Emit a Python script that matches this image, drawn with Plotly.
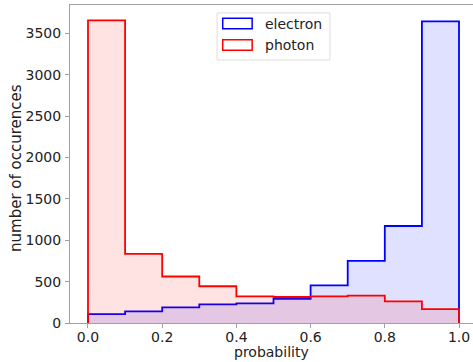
import plotly.graph_objects as go

bin_edges = [0.0, 0.1, 0.2, 0.3, 0.4, 0.5, 0.6, 0.7, 0.8, 0.9, 1.0]
electron_counts = [108, 140, 188, 225, 237, 291, 454, 750, 1172, 3645]
photon_counts = [3657, 836, 562, 444, 321, 314, 321, 330, 261, 168]
series_names = ["electron", "photon"]
x_ticks = [0.0, 0.2, 0.4, 0.6, 0.8, 1.0]
y_ticks = [0, 500, 1000, 1500, 2000, 2500, 3000, 3500]


def step_outline(edges, counts):
    xs = [edges[0]] + list(edges)
    ys = [0] + list(counts) + [0]
    return xs, ys


FONT = "DejaVu Sans"
fig = go.Figure()
styles = {
    "electron": dict(line="#0000ff", fill="rgba(0,0,255,0.12)"),
    "photon": dict(line="#ff0000", fill="rgba(255,0,0,0.11)"),
}
for name, counts in zip(series_names, [electron_counts, photon_counts]):
    xs, ys = step_outline(bin_edges, counts)
    fig.add_trace(go.Scatter(
        x=xs, y=ys, mode="lines", line=dict(color=styles[name]["line"], width=1.8, shape="hv"),
        fill="toself", fillcolor=styles[name]["fill"], name=name, showlegend=False,
        hoverinfo="skip",
    ))

# legend box (matplotlib-like), drawn first so the patches sit on top
fig.add_shape(type="rect", xref="paper", yref="paper", x0=0.365, x1=0.645, y0=0.827, y1=0.975,
              line=dict(color="#dddddd", width=1), fillcolor="rgba(255,255,255,0.85)")
legend_y = [0.9415, 0.8745]
for name, y in zip(series_names, legend_y):
    fig.add_shape(type="rect", xref="paper", yref="paper",
                  x0=0.379, x1=0.452, y0=y - 0.0165, y1=y + 0.0165,
                  line=dict(color=styles[name]["line"], width=1.5),
                  fillcolor="rgba(255,255,255,1)")
    fig.add_annotation(xref="paper", yref="paper", x=0.479, y=y, text=name,
                       showarrow=False, xanchor="left", yanchor="middle",
                       font=dict(family=FONT, size=14, color="#222"))

# axis titles
fig.add_annotation(xref="paper", yref="paper", x=0.5, y=(323 - 352) / 318, text="probability",
                   showarrow=False, xanchor="center", yanchor="middle",
                   font=dict(family=FONT, size=14, color="#222"))
fig.add_annotation(xref="paper", yref="paper", x=(16 - 70) / 403, y=(323 - 168) / 318,
                   text="number of occurences",
                   showarrow=False, xanchor="center", yanchor="middle", textangle=-90,
                   font=dict(family=FONT, size=15, color="#222"))

fig.update_layout(
    width=473, height=362,
    margin=dict(l=70, r=0, t=5, b=39),
    paper_bgcolor="white", plot_bgcolor="white",
    font=dict(family=FONT, size=14, color="#222"),
    showlegend=False,
)
fig.update_xaxes(
    range=[-0.0485, 1.0377], tickvals=x_ticks, ticktext=[f"{v:.1f}" for v in x_ticks],
    showgrid=False, zeroline=False, showline=True, linecolor="#a0a0a0", linewidth=1, mirror=True,
    ticks="outside", ticklen=4, tickcolor="#a0a0a0", ticklabelstandoff=-3,
)
fig.update_yaxes(
    range=[0, 3843], tickvals=y_ticks,
    showgrid=False, zeroline=False, showline=True, linecolor="#a0a0a0", linewidth=1,
    ticks="outside", ticklen=4, tickcolor="#a0a0a0", ticklabelstandoff=1,
)
fig.write_html("out.html")
